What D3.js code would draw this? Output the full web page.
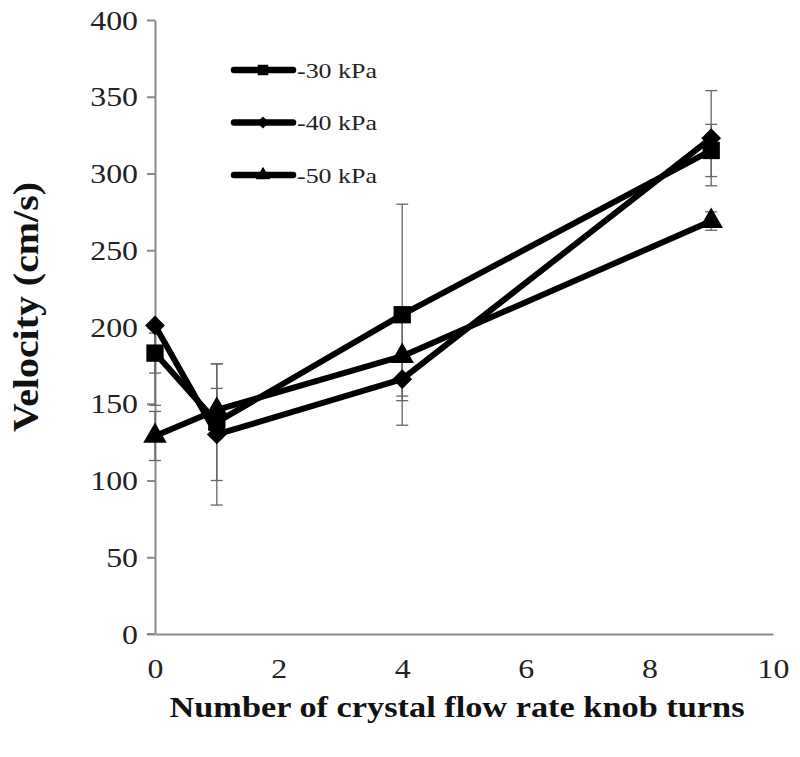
<!DOCTYPE html>
<html>
<head>
<meta charset="utf-8">
<script src="https://cdn.jsdelivr.net/npm/d3@7"></script>
<style>
body { margin: 0; background: #fff; }
svg { display: block; }
</style>
</head>
<body>
<script>
const turns = [0, 1, 4, 9];
const seriesNames = ["-30 kPa", "-40 kPa", "-50 kPa"];
const velocity30 = [183, 138, 208, 315];
const velocity40 = [201, 130, 166, 323];
const velocity50 = [129, 146, 181, 269];
const errorLow30 = [13, 38, 72, 17];
const errorHigh30 = [13, 38, 72, 17];
const errorLow40 = [52, 46, 14, 31];
const errorHigh40 = [0, 46, 14, 31];
const errorLow50 = [16, 14, 26, 6];
const errorHigh50 = [16, 14, 26, 6];
const yTicks = [0, 50, 100, 150, 200, 250, 300, 350, 400];
const xTicks = [0, 2, 4, 6, 8, 10];
const symbols = [d3.symbolSquare, d3.symbolDiamond2, d3.symbolTriangle];
const symbolSizes = [300, 250, 240];
const legendSymbolSizes = [110, 95, 90];

const series = [
  { name: seriesNames[0], values: velocity30, lo: errorLow30, hi: errorHigh30 },
  { name: seriesNames[1], values: velocity40, lo: errorLow40, hi: errorHigh40 },
  { name: seriesNames[2], values: velocity50, lo: errorLow50, hi: errorHigh50 }
];

const W = 800, H = 757;
const svg = d3.select("body").append("svg").attr("width", W).attr("height", H);

const x = d3.scaleLinear().domain([0, 10]).range([155, 773]);
const y = d3.scaleLinear().domain([0, 400]).range([634, 20]);

const axisColor = "#8a8a8a";
const font = "'Liberation Serif', 'Times New Roman', serif";
const stretch = 1.18;

function widen(sel, factor) {
  sel.each(function() {
    const len = this.getComputedTextLength();
    d3.select(this).attr("textLength", len * factor).attr("lengthAdjust", "spacingAndGlyphs");
  });
}

// Y axis
const yAxis = svg.append("g").attr("transform", `translate(${x(0)},0)`)
  .call(d3.axisLeft(y).tickValues(yTicks).tickSize(8).tickPadding(9).tickSizeOuter(0));
yAxis.attr("font-family", null).attr("font-size", null);
yAxis.select(".domain").attr("stroke", axisColor).attr("stroke-width", 2);
yAxis.selectAll(".tick line").attr("stroke", axisColor).attr("stroke-width", 2);
yAxis.selectAll(".tick text").style("font-family", font).style("font-size", "27px")
  .attr("fill", "#222").attr("dy", "0.34em").call(widen, stretch);

// X axis
const xAxis = svg.append("g").attr("transform", `translate(0,${y(0)})`)
  .call(d3.axisBottom(x).tickValues(xTicks).tickSize(0).tickPadding(25).tickSizeOuter(0));
xAxis.attr("font-family", null).attr("font-size", null);
xAxis.select(".domain").attr("stroke", axisColor).attr("stroke-width", 2);
xAxis.selectAll(".tick text").style("font-family", font).style("font-size", "27px")
  .attr("fill", "#222").call(widen, stretch);
svg.append("line").attr("x1", x(0) - 8).attr("x2", x(0)).attr("y1", y(0)).attr("y2", y(0))
  .attr("stroke", axisColor).attr("stroke-width", 2);

// Error bars
const errG = svg.append("g");
series.forEach(s => {
  s.values.forEach((v, i) => {
    const cx = x(turns[i]);
    const a = v - s.lo[i], b = v + s.hi[i];
    errG.append("line").attr("x1", cx).attr("x2", cx).attr("y1", y(a)).attr("y2", y(b))
      .attr("stroke", "#666").attr("stroke-width", 1.3);
    [a, b].forEach(val => {
      errG.append("line").attr("x1", cx - 6).attr("x2", cx + 6).attr("y1", y(val)).attr("y2", y(val))
        .attr("stroke", "#666").attr("stroke-width", 1.3);
    });
  });
});

// Lines
const line = d3.line().x((d, i) => x(turns[i])).y(d => y(d));
series.forEach(s => {
  svg.append("path").datum(s.values).attr("d", line)
    .attr("fill", "none").attr("stroke", "#000").attr("stroke-width", 6).attr("stroke-linejoin", "round");
});

// Markers
series.forEach((s, k) => {
  svg.append("g").selectAll("path").data(s.values).join("path")
    .attr("transform", (d, i) => `translate(${x(turns[i])},${y(d)})`)
    .attr("d", d3.symbol().type(symbols[k]).size(symbolSizes[k]))
    .attr("fill", "#000");
});

// Legend
const legend = svg.append("g");
series.forEach((s, k) => {
  const ly = 70 + k * 52.5;
  legend.append("line").attr("x1", 234).attr("x2", 293).attr("y1", ly).attr("y2", ly)
    .attr("stroke", "#000").attr("stroke-width", 6.5).attr("stroke-linecap", "round");
  legend.append("path").attr("transform", `translate(263,${ly})`)
    .attr("d", d3.symbol().type(symbols[k]).size(legendSymbolSizes[k])).attr("fill", "#000");
  legend.append("text").attr("x", 297).attr("y", ly).attr("dy", "0.35em")
    .style("font-family", font).style("font-size", "22px").attr("fill", "#222").text(s.name)
    .call(widen, stretch);
});

// Axis titles
svg.append("text").attr("x", 457).attr("y", 717).attr("text-anchor", "middle")
  .style("font-family", font).style("font-weight", "bold").style("font-size", "30px").attr("fill", "#111")
  .text("Number of crystal flow rate knob turns")
  .attr("textLength", 575).attr("lengthAdjust", "spacingAndGlyphs");
svg.append("text").attr("transform", "translate(38,307) rotate(-90)").attr("text-anchor", "middle")
  .style("font-family", font).style("font-weight", "bold").style("font-size", "35px").attr("fill", "#111")
  .text("Velocity (cm/s)")
  .attr("textLength", 250).attr("lengthAdjust", "spacingAndGlyphs");
</script>
</body>
</html>
